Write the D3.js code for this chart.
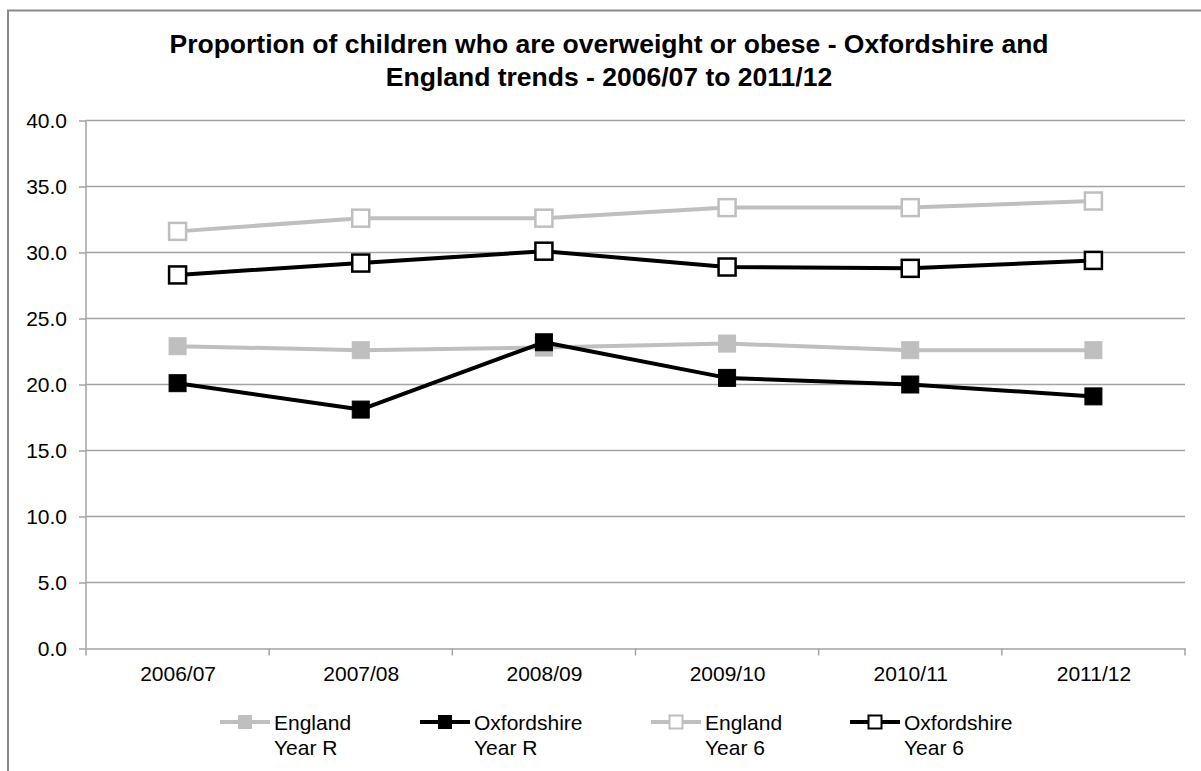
<!DOCTYPE html>
<html>
<head>
<meta charset="utf-8">
<script src="https://cdn.jsdelivr.net/npm/d3@7"></script>
<style>
  body { margin: 0; background: #fff; }
  text { font-family: "Liberation Sans", Arial, sans-serif; fill: #000; }
</style>
</head>
<body>
<div class="chart"></div>
<script>
// data
const years = ["2006/07", "2007/08", "2008/09", "2009/10", "2010/11", "2011/12"];
const englandYearR = [22.9, 22.6, 22.8, 23.1, 22.6, 22.6];
const oxfordYearR = [20.1, 18.1, 23.2, 20.5, 20.0, 19.1];
const englandYear6 = [31.6, 32.6, 32.6, 33.4, 33.4, 33.9];
const oxfordYear6 = [28.3, 29.2, 30.1, 28.9, 28.8, 29.4];
const yTicks = [0, 5, 10, 15, 20, 25, 30, 35, 40];
const titleLines = [
  "Proportion of children who are overweight or obese - Oxfordshire and",
  "England trends - 2006/07 to 2011/12"
];

const series = [
  { name: ["England", "Year R"], values: englandYearR, color: "#bfbfbf", open: false },
  { name: ["Oxfordshire", "Year R"], values: oxfordYearR, color: "#000000", open: false },
  { name: ["England", "Year 6"], values: englandYear6, color: "#bfbfbf", open: true },
  { name: ["Oxfordshire", "Year 6"], values: oxfordYear6, color: "#000000", open: true }
];

const outerWidth = 1201;
const outerHeight = 771;
const margin = { top: 120.5, left: 86, bottom: 122.5, right: 16 };
const width = outerWidth - margin.left - margin.right;
const height = outerHeight - margin.top - margin.bottom;
const gridColor = "#a3a3a3";

const root = d3.select(".chart")
  .append("svg")
  .attr("width", outerWidth)
  .attr("height", outerHeight);

// chart frame (right and bottom edges fall outside the picture)
root.append("rect")
  .attr("x", 8).attr("y", 10.5)
  .attr("width", 1300).attr("height", 900)
  .attr("fill", "none")
  .attr("stroke", "#8a8a8a")
  .attr("stroke-width", 2);

// title
root.append("g")
  .selectAll("text")
  .data(titleLines)
  .join("text")
  .attr("x", 609)
  .attr("y", (d, i) => 52.5 + i * 33.5)
  .attr("text-anchor", "middle")
  .style("font-size", "26.5px")
  .style("font-weight", "bold")
  .text(d => d);

const svg = root.append("g")
  .attr("transform", `translate(${margin.left}, ${margin.top})`);

const xBand = d3.scaleBand().domain(years).range([0, width]);
const xScale = d3.scalePoint().domain(years).range([0, width]).padding(0.5);
const yScale = d3.scaleLinear().domain([0, 40]).range([height, 0]);

// gridlines
svg.append("g")
  .selectAll("line")
  .data(yTicks.filter(d => d > 0))
  .join("line")
  .attr("x1", 0).attr("x2", width)
  .attr("y1", d => yScale(d)).attr("y2", d => yScale(d))
  .attr("stroke", gridColor)
  .attr("stroke-width", 1.5);

// y axis
const yAxis = d3.axisLeft(yScale)
  .tickValues(yTicks)
  .tickFormat(d3.format(".1f"))
  .tickSize(7)
  .tickPadding(12);

svg.append("g")
  .attr("class", "axis-y-axis")
  .call(yAxis)
  .call(g => g.selectAll("line, path").attr("stroke", gridColor).attr("stroke-width", 1.5))
  .call(g => g.select(".domain").attr("d", `M0,${height}V0`))
  .call(g => g.selectAll("text").style("font-size", "21px").attr("fill", "#000"));

// x axis with tick marks at category boundaries
const xAxis = d3.axisBottom(xScale).tickSize(0).tickPadding(18);

const gx = svg.append("g")
  .attr("class", "axis-x-axis")
  .attr("transform", `translate(0, ${height})`)
  .call(xAxis)
  .call(g => g.select(".domain").attr("stroke", gridColor).attr("stroke-width", 1.5))
  .call(g => g.selectAll("text").style("font-size", "21px").attr("fill", "#000"));

gx.append("g")
  .selectAll("line")
  .data(years.map(d => xBand(d)).concat([width]))
  .join("line")
  .attr("x1", d => d).attr("x2", d => d)
  .attr("y1", 0).attr("y2", 7)
  .attr("stroke", gridColor)
  .attr("stroke-width", 1.5);

// lines and markers
const line = d3.line()
  .x((d, i) => xScale(years[i]))
  .y(d => yScale(d));

const markerSize = 17;

series.forEach(s => {
  svg.append("path")
    .datum(s.values)
    .attr("d", line)
    .attr("fill", "none")
    .attr("stroke", s.color)
    .attr("stroke-width", 4)
    .attr("stroke-linejoin", "round");

  svg.append("g")
    .selectAll("rect")
    .data(s.values)
    .join("rect")
    .attr("x", (d, i) => xScale(years[i]) - markerSize / 2)
    .attr("y", d => yScale(d) - markerSize / 2)
    .attr("width", markerSize)
    .attr("height", markerSize)
    .attr("fill", s.open ? "#fff" : s.color)
    .attr("stroke", s.color)
    .attr("stroke-width", s.open ? 2.5 : 1);
});

// legend
const legendX = [245, 445, 676, 875];
const legendY = 722;
const legend = root.append("g")
  .selectAll("g")
  .data(series)
  .join("g")
  .attr("transform", (d, i) => `translate(${legendX[i]}, ${legendY})`);

legend.append("line")
  .attr("x1", -25).attr("x2", 25)
  .attr("stroke", d => d.color)
  .attr("stroke-width", 4);

legend.append("rect")
  .attr("x", -6.5).attr("y", -6.5)
  .attr("width", 13).attr("height", 13)
  .attr("fill", d => d.open ? "#fff" : d.color)
  .attr("stroke", d => d.color)
  .attr("stroke-width", d => d.open ? 2 : 1);

legend.append("text")
  .attr("x", 29)
  .attr("y", 7.5)
  .style("font-size", "21px")
  .selectAll("tspan")
  .data(d => d.name)
  .join("tspan")
  .attr("x", 29)
  .attr("dy", (d, i) => i === 0 ? 0 : 25)
  .text(d => d);
</script>
</body>
</html>
